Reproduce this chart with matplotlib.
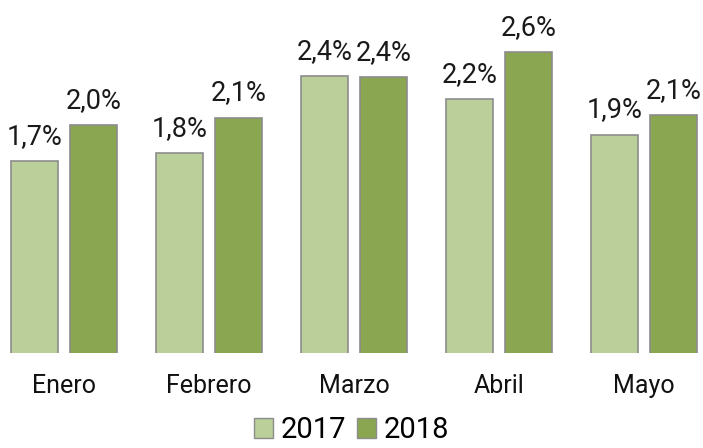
import matplotlib
matplotlib.use('Agg')
import matplotlib.pyplot as plt
import matplotlib.patches as mpatches
import numpy as np

# datos (% mensual)
meses = ['Enero', 'Febrero', 'Marzo', 'Abril', 'Mayo']
anios = ['2017', '2018']
valores_2017 = [1.70, 1.77, 2.40, 2.21, 1.92]
valores_2018 = [2.00, 2.06, 2.39, 2.60, 2.08]

# colores
verde_claro = '#BACF99'
verde_oscuro = '#8AA651'
borde = '#8C8C8C'

plt.rcParams['font.family'] = ['Roboto', 'DejaVu Sans']

fig = plt.figure(figsize=(7.03, 4.48), dpi=100)
# escala: 145 px por categoria, 122 px por punto porcentual
ax = fig.add_axes([0, 95 / 448, 1, 353 / 448])
ax.set_xlim(-64 / 145, (703 - 64) / 145)
ax.set_ylim(0.13, 0.13 + 353 / 122)

x = np.arange(len(meses))
ancho = 47 / 145
desp = 29.5 / 145

b1 = ax.bar(x - desp, valores_2017, ancho, bottom=0, color=verde_claro, edgecolor=borde, linewidth=1.2)
b2 = ax.bar(x + desp, valores_2018, ancho, bottom=0, color=verde_oscuro, edgecolor=borde, linewidth=1.2)

# etiquetas de valor sobre cada barra
for barras, vals in ((b1, valores_2017), (b2, valores_2018)):
    for rect, v in zip(barras, vals):
        ax.annotate('{:.1f}%'.format(v).replace('.', ','),
                    (rect.get_x() + rect.get_width() / 2, v),
                    xytext=(0, 8), textcoords='offset points',
                    ha='center', va='bottom', fontsize=19.5, color='#1a1a1a')

ax.set_xticks(x)
ax.set_xticklabels(meses, fontsize=18, color='#111111')
ax.tick_params(axis='x', length=0, pad=15)
ax.set_yticks([])
for s in ax.spines.values():
    s.set_visible(False)

legenda = [mpatches.Patch(facecolor=verde_claro, edgecolor=borde, label=anios[0]),
           mpatches.Patch(facecolor=verde_oscuro, edgecolor=borde, label=anios[1])]
fig.legend(handles=legenda, loc='lower center', bbox_to_anchor=(0.5, -0.05), ncol=2,
           frameon=False, fontsize=21, handlelength=0.65, handleheight=0.65,
           handletextpad=0.25, columnspacing=0.4)

fig.savefig('out.png', dpi=100)
